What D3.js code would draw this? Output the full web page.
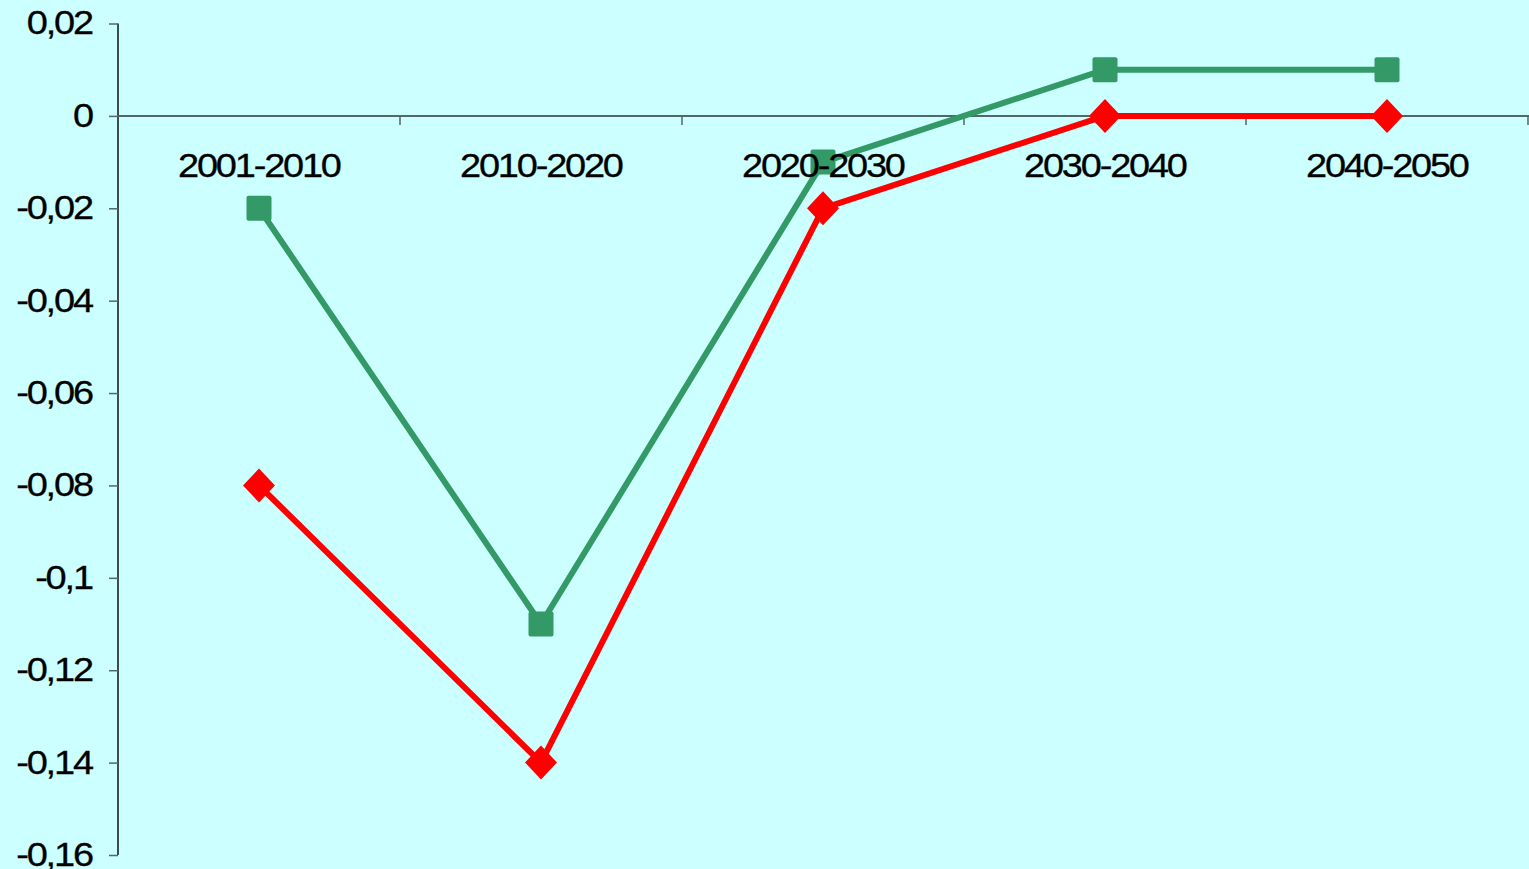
<!DOCTYPE html>
<html><head><meta charset="utf-8">
<script src="https://cdn.jsdelivr.net/npm/d3@7"></script>
<style>html,body{margin:0;padding:0;background:#CCFFFF;overflow:hidden}</style>
</head><body>
<svg id="c" width="1529" height="869"></svg>
<script>
const categories = ["2001-2010","2010-2020","2020-2030","2030-2040","2040-2050"];
const greenSeries = [-0.02, -0.11, -0.01, 0.01, 0.01];
const redSeries = [-0.08, -0.14, -0.02, 0, 0];
const yTicks = [0.02, 0, -0.02, -0.04, -0.06, -0.08, -0.1, -0.12, -0.14, -0.16];

const W = 1529, H = 869;
const svg = d3.select("#c");
svg.append("rect").attr("width", W).attr("height", H).attr("fill", "#CCFFFF");

const x = d3.scaleBand().domain(categories).range([118, 1528]);
const y = d3.scaleLinear().domain([-0.16, 0.02]).range([855, 23.5]);
const fmt = v => v === 0 ? "0" : String(v).replace(".", ",");
const FONT = "Liberation Sans, Arial, sans-serif";
const SX = 1.15, LS = -1.9, FS = 33;

// Y axis
const yAxis = svg.append("g").attr("transform", "translate(118,0)")
  .call(d3.axisLeft(y).tickValues(yTicks).tickSize(9).tickFormat(""));
yAxis.select(".domain").attr("stroke", "#111").attr("stroke-width", 1.5).attr("d", `M0,${y(0.02)}V${y(-0.16)}`);
yAxis.selectAll(".tick line").attr("stroke", "#556666").attr("stroke-width", 1.5);

// Y labels
svg.append("g").selectAll("g").data(yTicks).join("g")
  .attr("transform", d => `translate(${94 + LS * SX},${y(d) - 1}) scale(${SX},1)`)
  .append("text").attr("text-anchor", "end").attr("dy", "0.36em")
  .attr("font-family", FONT).attr("font-size", FS).attr("letter-spacing", LS)
  .attr("fill", "#000").attr("stroke", "#000").attr("stroke-width", 0.3)
  .text(fmt);

// X axis on zero line
const xAxis = svg.append("g").attr("transform", `translate(0,${y(0)})`)
  .call(d3.axisBottom(x).tickSize(0).tickFormat(""));
xAxis.select(".domain").attr("stroke", "#556666").attr("stroke-width", 2).attr("d", `M118,0H1529`);
svg.append("g").selectAll("line").data(categories).join("line")
  .attr("x1", d => x(d) + x.bandwidth()).attr("x2", d => x(d) + x.bandwidth())
  .attr("y1", y(0)).attr("y2", y(0) + 9)
  .attr("stroke", "#556666").attr("stroke-width", 1.5);

const cx = d => x(d) + x.bandwidth() / 2;
const line = d3.line().x(d => cx(d.c)).y(d => y(d.v));

// Green series
const gData = categories.map((c, i) => ({c, v: greenSeries[i]}));
svg.append("path").datum(gData).attr("d", line).attr("fill", "none")
  .attr("stroke", "#339966").attr("stroke-width", 6).attr("stroke-linejoin", "round");
svg.append("g").selectAll("rect").data(gData).join("rect")
  .attr("x", d => cx(d.c) - 12.5).attr("y", d => y(d.v) - 12.5)
  .attr("width", 25).attr("height", 25).attr("rx", 2)
  .attr("fill", "#339966");

// Red series
const rData = categories.map((c, i) => ({c, v: redSeries[i]}));
svg.append("path").datum(rData).attr("d", line).attr("fill", "none")
  .attr("stroke", "#FF0000").attr("stroke-width", 6).attr("stroke-linejoin", "round");
svg.append("g").selectAll("path").data(rData).join("path")
  .attr("transform", d => `translate(${cx(d.c)},${y(d.v)})`)
  .attr("d", "M0,-17L16,0L0,17L-16,0Z")
  .attr("fill", "#FF0000");

// X labels
svg.append("g").selectAll("g").data(categories).join("g")
  .attr("transform", d => `translate(${cx(d) + 1 + LS * SX / 2},176.5) scale(${SX},1)`)
  .append("text").attr("text-anchor", "middle")
  .attr("font-family", FONT).attr("font-size", FS).attr("letter-spacing", LS)
  .attr("fill", "#000").attr("stroke", "#000").attr("stroke-width", 0.3)
  .text(d => d);
</script>
</body></html>
